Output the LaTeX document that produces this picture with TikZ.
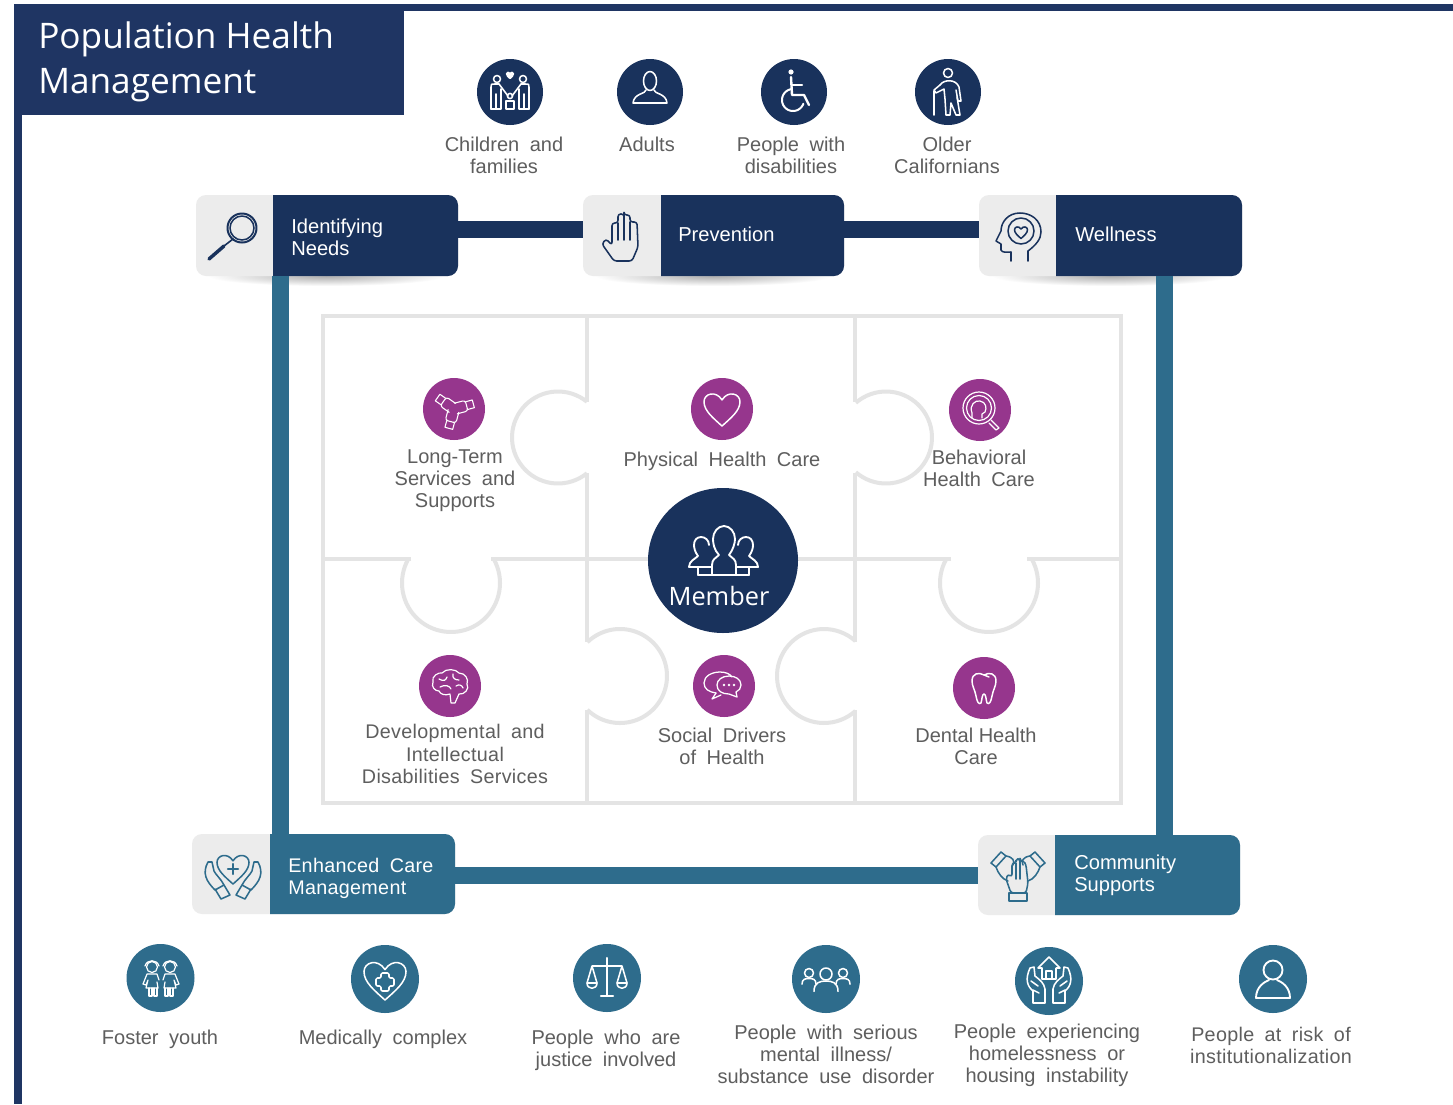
\documentclass[tikz,border=0pt]{standalone}
\usepackage{fontspec}
\usetikzlibrary{shapes.geometric}
\setmainfont{Liberation Sans}[WordSpace=1.9]
\newfontfamily\titlefont{Open Sans}
\newfontfamily\spacedfont{Liberation Sans}[WordSpace=1.8,LetterSpace=1.6]
\newfontfamily\singlefont{Liberation Sans}
\definecolor{navy}{HTML}{19325C}
\definecolor{framenavy}{HTML}{1F3563}
\definecolor{teal}{HTML}{2E6C8C}
\definecolor{plum}{HTML}{96368D}
\definecolor{cardgray}{HTML}{ECECEC}
\definecolor{puzzle}{HTML}{E4E4E4}
\definecolor{lblgray}{HTML}{5E5E5E}
\tikzset{
  disc/.style={circle,fill=#1,inner sep=0pt,minimum size=66*0.75pt},
  tdisc/.style={circle,fill=teal,inner sep=0pt,minimum size=68*0.75pt},
  pdisc/.style={circle,fill=plum,inner sep=0pt,minimum size=62*0.75pt},
  lbl/.style={align=center,text=lblgray,inner sep=0pt,font=\fontsize{15}{16.6}\selectfont},
  cardtxt/.style={align=left,anchor=west,text=white,inner sep=0pt,font=\fontsize{15.1}{16.6}\selectfont},
  cardbox/.style={rectangle,fill=cardgray,rounded corners=7.5pt,inner sep=0pt},
  navybar/.style={draw=navy,line width=12.75pt},
  tealbar/.style={draw=teal,line width=12.75pt},
  pz/.style={draw=puzzle,line width=3pt},
  ico/.style={draw=#1,line width=1.15pt,line join=round,line cap=round},
  ico/.default=white,
}
\newcommand\card[7]{%
  \node[cardbox,minimum width={(#4-#2)*0.75pt},minimum height={(#6-#5)*0.75pt}] (#1) at ({(#2+#4)/2},{(#5+#6)/2}) {};
  \fill[#7] (#3,#5) [rounded corners=7.5pt] -- (#4,#5) -- (#4,#6) [sharp corners] -- (#3,#6) -- cycle;
}
\newcommand\heart[3]{({#1},{#2+#3}) .. controls ({#1-0.5*#3},{#2+0.55*#3}) and ({#1-#3},{#2+0.15*#3}) .. ({#1-#3},{#2-0.35*#3}) .. controls ({#1-#3},{#2-0.8*#3}) and ({#1-0.35*#3},{#2-#3}) .. ({#1},{#2-0.45*#3}) .. controls ({#1+0.35*#3},{#2-#3}) and ({#1+#3},{#2-0.8*#3}) .. ({#1+#3},{#2-0.35*#3}) .. controls ({#1+#3},{#2+0.15*#3}) and ({#1+0.5*#3},{#2+0.55*#3}) .. ({#1},{#2+#3}) -- cycle}
\newcommand\knob[5]{\draw[pz] plot[domain=#4:#5,samples=50,smooth] ({#1+#3*cos(\x)},{#2+#3*sin(\x)});}
\newcommand\bust[4]{%
  \draw (#1,#2) circle[radius=#3];
  \draw ({#1-#4},{#2+#3+#4*0.95}) .. controls ({#1-#4},{#2+#3+#4*0.2}) and ({#1-#4*0.5},{#2+#3+1}) .. ({#1},{#2+#3+1}) .. controls ({#1+#4*0.5},{#2+#3+1}) and ({#1+#4},{#2+#3+#4*0.2}) .. ({#1+#4},{#2+#3+#4*0.95});
}
\begin{document}
\begin{tikzpicture}[x=0.75pt,y=-0.75pt]
\useasboundingbox (0,0) rectangle (1453,1104);
\fill[white] (0,0) rectangle (1453,1104);
% frame
\fill[framenavy] (14,4) rectangle (1453,11);
\fill[framenavy] (14,4) rectangle (22,1104);
\node[fill=framenavy,inner sep=0pt,minimum width=390*0.75pt,minimum height=111*0.75pt] (titlebox) at (209,59.5) {};
\node[anchor=west,text=white,align=left,inner sep=0pt,font=\titlefont\fontsize{26.4}{33.8}\selectfont] (title) at (38,62) {Population Health\\Management};
% named guide coordinates
\coordinate (busTop) at (0,229);
\coordinate (busBot) at (0,875.5);
\coordinate (railL) at (280.5,0);
\coordinate (railR) at (1164,0);
% shadows
\foreach \cx in {326,713,1110}{
  \begin{scope}
    \clip (\cx-130,276) rectangle (\cx+130,290);
    \shade[inner color=black!32,outer color=white] (\cx,276) ellipse [x radius=118,y radius=10];
  \end{scope}
}
% puzzle
\draw[pz] (411,559) -- (323,559) -- (323,316) -- (1121,316) -- (1121,559) -- (1027,559);
\draw[pz] (951,559) -- (491,559);
\draw[pz] (323,559) -- (323,803) -- (1121,803) -- (1121,559);
\draw[pz] (587,316) -- (587,402) (587,473) -- (587,642) (587,710) -- (587,803);
\draw[pz] (855,316) -- (855,402) (855,473) -- (855,642) (855,710) -- (855,803);
\knob{558}{437.5}{46}{51}{309}
\knob{886}{437.5}{46}{-131}{131}
\knob{451}{583}{49}{-29}{209}
\knob{989}{583}{49}{-29}{209}
\knob{620}{676}{47}{-134}{134}
\knob{824}{676}{47}{48}{312}
% cards
\card{idn}{196}{273}{458}{195}{276}{navy}
\card{prev}{583}{661}{844}{195}{276}{navy}
\card{well}{979}{1056}{1242}{195}{276}{navy}
\card{ecm}{192}{270}{455}{834}{914}{teal}
\card{cs}{978}{1055}{1240}{835}{915}{teal}
\node[cardtxt] (idn-t) at (291,237.5) {Identifying\\Needs};
\node[cardtxt] (prev-t) at (678,234) {Prevention};
\node[cardtxt] (well-t) at (1075,234) {Wellness};
\node[cardtxt,font=\spacedfont\fontsize{14.8}{16.6}\selectfont] (ecm-t) at (288,878) {Enhanced Care\\Management};
\node[cardtxt] (cs-t) at (1074,875) {Community\\Supports};
% connectors
\draw[navybar] (idn.east |- busTop) -- (prev.west |- busTop);
\draw[navybar] (prev.east |- busTop) -- (well.west |- busTop);
\draw[tealbar] (ecm.east |- busBot) -- (cs.west |- busBot);
\draw[tealbar] (railL |- idn.south) -- (railL |- ecm.north);
\draw[tealbar] (railR |- well.south) -- (railR |- cs.north);
% top discs
\node[disc=navy] (dChild) at (510,92) {};
\node[disc=navy] (dAdult) at (650,92) {};
\node[disc=navy] (dDis) at (794,92) {};
\node[disc=navy] (dOld) at (948,92) {};
\node[lbl] (tChild) at (504,155.5) {Children and\\families};
\node[lbl] (tAdult) at (647,144) {Adults};
\node[lbl] (tDis) at (791,155.5) {People with\\disabilities};
\node[lbl] (tOld) at (947,155) {Older\\Californians};
% family icon
\begin{scope}[shift={(510,92)},ico]
  \draw[fill=white] \heart{0}{-17}{3.4};
  \draw (-13,-13) circle[radius=3.5] (13,-13) circle[radius=3.5] (0,4) circle[radius=2.6];
  \draw (-19,17) -- (-19,-5) .. controls (-19,-8) .. (-15,-8) -- (-11,-8) -- (-2,4);
  \draw (-9,17) -- (-9,-3) (-14,17) -- (-14,2) (-19,17) -- (-9,17);
  \draw (19,17) -- (19,-5) .. controls (19,-8) .. (15,-8) -- (11,-8) -- (2,4);
  \draw (9,17) -- (9,-3) (14,17) -- (14,2) (19,17) -- (9,17);
  \draw (-4,17) -- (-4,9) -- (4,9) -- (4,17) -- cycle;
\end{scope}
% adult icon
\begin{scope}[shift={(650,91)},ico]
  \draw (0,-10) ellipse [x radius=6.5,y radius=9.5];
  \draw (-4,-1) .. controls (-4,3) and (-16,2) .. (-17,12) -- (17,12) .. controls (16,2) and (4,3) .. (4,-1);
\end{scope}
% wheelchair
\begin{scope}[shift={(794,92)},ico]
  \fill[white] (-3,-20) circle[radius=2.6];
  \draw[line width=1.8pt] (-3,-15) -- (-2,3) -- (10,3) -- (15,13);
  \draw[line width=1.5pt] (-2,-7) -- (8,-7);
  \draw[line width=1.5pt] plot[domain=20:260,samples=30,smooth] ({-1+11*cos(\x)},{8+11*sin(\x)});
\end{scope}
% older person
\begin{scope}[shift={(948,91)},ico]
  \draw (0,-18) circle[radius=4.5];
  \draw (-8,-6) .. controls (-4,-12) and (8,-12) .. (11,-4) -- (13,10) -- (10,10) -- (8,-1);
  \draw (-8,-6) -- (-14,-1) -- (-12,2) -- (-4,-2) -- (-3,8) -- (-2,24) -- (2,24) -- (3,12) -- (8,24) -- (12,24) -- (9,6);
  \draw (-14,0) -- (-14,24);
\end{scope}
% card icons
\begin{scope}[ico=navy]
  \draw[line width=1.5pt] (242,228) circle[radius=14.5];
  \draw (242,228) circle[radius=12];
  \draw[line width=1.2pt] (233,239) -- (224,246);
  \draw[line width=2.6pt] (224,246) -- (209,259);
\end{scope}
\begin{scope}[shift={(622,237)},ico=navy]
  \draw[rounded corners=2pt] (-8,24) -- (-20,7) -- (-16,2) -- (-10,8) -- (-10,-14) -- (-4,-14) -- (-4,-23) -- (2,-23) -- (2,-22) -- (8,-22) -- (8,-15) -- (15,-15) -- (16,10) -- (10,24) -- cycle;
  \draw (-4,-14) -- (-4,3) (2,-22) -- (2,3) (8,-15) -- (8,3);
\end{scope}
\begin{scope}[shift={(1019,236)},ico=navy]
  \draw (9,25) -- (9,15) .. controls (17,9) and (22,3) .. (22,-4) .. controls (22,-16) and (12,-23) .. (1,-23) .. controls (-11,-23) and (-18,-14) .. (-18,-5) -- (-23,5) -- (-18,8) -- (-18,14) .. controls (-17,17) and (-12,16) .. (-8,16) -- (-8,25);
  \draw (2,-5) circle[radius=13];
  \draw \heart{2}{-4}{6.5};
\end{scope}
\begin{scope}[shift={(233,875)},ico=teal]
  \draw \heart{0}{-7}{16};
  \draw[line width=1.8pt] (-5,-6) -- (5,-6) (0,-11) -- (0,-1);
  \foreach \s in {1,-1}{
    \begin{scope}[xscale=\s]
      \draw (-25,-13) .. controls (-31,-2) and (-27,6) .. (-18,15) -- (-9,10) .. controls (-12,4) and (-17,0) .. (-19,-4) -- (-21,-13) -- cycle;
      \draw (-18,14) -- (-12,24) -- (-3,20) -- (-9,10);
    \end{scope}
  }
\end{scope}
\begin{scope}[shift={(1018,875)},ico=teal]
  \foreach \s in {1,-1}{
    \begin{scope}[xscale=\s]
      \draw (-27,-12) -- (-17,-23) -- (-12,-19) -- (-22,-8) -- cycle;
      \draw (-12,-19) .. controls (-5,-18) and (-3,-14) .. (-5,-10);
      \draw (-22,-8) .. controls (-20,-2) and (-16,4) .. (-10,6);
    \end{scope}
  }
  \draw[rounded corners=2pt] (-10,-1) -- (-6,2) -- (-6,-12) -- (-2,-12) -- (-2,-16) -- (2,-16) -- (2,-14) -- (6,-14) -- (8,-10) -- (10,8) -- (8,18) -- (-7,18) -- (-12,4) -- cycle;
  \draw (-2,-12) -- (-2,4) (2,-14) -- (2,4);
  \draw (-9,18) rectangle (9,26);
\end{scope}
% purple discs
\node[pdisc] (dLtss) at (454,409) {};
\node[pdisc] (dPhys) at (722,409) {};
\node[pdisc] (dBeh) at (980,410) {};
\node[pdisc] (dDev) at (450,686) {};
\node[pdisc] (dSoc) at (724,686) {};
\node[pdisc] (dDen) at (984,688) {};
\node[lbl] (tLtss) at (455,481) {Long-Term\\Services and\\Supports};
\node[lbl] (tPhys) at (722,461) {Physical Health Care};
\node[lbl] (tBeh) at (979,468.5) {Behavioral\\Health Care};
\node[lbl,font=\spacedfont\fontsize{14.8}{16.6}\selectfont] (tDev) at (455,754) {Developmental and\\Intellectual\\Disabilities Services};
\node[lbl] (tSoc) at (722,746) {Social Drivers\\of Health};
\node[lbl,font=\singlefont\fontsize{15}{16.6}\selectfont] (tDen) at (976,746) {Dental Health\\Care};
% purple icons
\begin{scope}[shift={(454,409)},ico,line width=0.8pt]
  \foreach \a in {-105,15,145}{
    \begin{scope}[rotate=\a]
      \draw[rounded corners=2pt] (2,-5.5) -- (13,-5.5) -- (13,5.5) -- (2,5.5);
      \draw (13,-4) -- (20,-4) -- (20,4) -- (13,4);
    \end{scope}
  }
\end{scope}
\begin{scope}[ico,line width=1.1pt]
  \draw \heart{722}{408}{18};
\end{scope}
\begin{scope}[shift={(980,410)},ico,line width=0.9pt]
  \draw (-1,-2) circle[radius=16] (-1,-2) circle[radius=12.5];
  \draw (-8,8) -- (-8,3) .. controls (-11,-5) and (-5,-10) .. (0,-9) .. controls (6,-8) and (7,-2) .. (5,2) -- (2,4) -- (2,8);
  \draw (11,10) -- (19,18) -- (16,20) -- (9,13);
\end{scope}
\begin{scope}[shift={(450,686)},ico,line width=0.9pt]
  \draw (-17,-4) .. controls (-19,-10) and (-11,-14) .. (-8,-13) .. controls (-4,-18) and (6,-17) .. (9,-13) .. controls (15,-13) and (19,-7) .. (17,-2) .. controls (20,3) and (14,9) .. (9,8) -- (5,17) -- (1,17) -- (0,8) .. controls (-5,10) and (-10,8) .. (-11,5) .. controls (-15,5) and (-19,1) .. (-17,-4);
  \draw (-11,-7) .. controls (-6,-4) and (-4,-6) .. (-3,-9) (-10,1) .. controls (-5,-2) and (0,0) .. (1,3) (3,-12) .. controls (2,-8) and (5,-6) .. (9,-6) (6,0) .. controls (9,-2) and (12,-1) .. (13,2);
\end{scope}
\begin{scope}[shift={(724,686)},ico,line width=0.95pt]
  \draw (-8,7) .. controls (-15,6) and (-20,3) .. (-20,-3) .. controls (-20,-10) and (-12,-14) .. (-4,-14) .. controls (2,-14) and (6,-12) .. (8,-9);
  \draw (-8,7) -- (-12,13) -- (-3,9);
  \draw (17,-1) .. controls (17,-7) and (11,-10) .. (5,-10) .. controls (-2,-10) and (-7,-6) .. (-7,-1) .. controls (-7,5) and (-2,8) .. (5,8) -- (13,11) -- (12,6) .. controls (15,5) and (17,2) .. (17,-1);
  \fill[white] (0,-1) circle[radius=1.3] (5,-1) circle[radius=1.3] (10,-1) circle[radius=1.3];
\end{scope}
\begin{scope}[shift={(984,688)},ico,line width=1.1pt]
  \draw (0,-13) .. controls (-5,-16) and (-12,-15) .. (-12,-7) .. controls (-12,-2) and (-9,2) .. (-8,8) .. controls (-7,14) and (-5,17) .. (-3,15) .. controls (-2,12) and (-2,6) .. (0,6) .. controls (2,6) and (2,12) .. (3,15) .. controls (5,17) and (7,14) .. (8,8) .. controls (9,2) and (12,-2) .. (12,-7) .. controls (12,-15) and (5,-16) .. (0,-13) -- (5,-11);
\end{scope}
% member
\node[ellipse,fill=navy,inner sep=0pt,minimum width=150*0.75pt,minimum height=145*0.75pt] (member) at (723,560.5) {};
\node[text=white,inner sep=0pt,font=\titlefont\fontsize{19}{24}\selectfont] (memberT) at (719,596) {Member};
\begin{scope}[shift={(723,552)},ico,line width=1.4pt]
  \draw (-11,23) -- (-11,13) .. controls (-11,7) and (-7,6) .. (-4,3) .. controls (-9,-2) and (-10,-9) .. (-10,-13) .. controls (-10,-20) and (-5,-26) .. (1,-26) .. controls (7,-26) and (12,-20) .. (12,-13) .. controls (12,-9) and (10,-2) .. (6,3) .. controls (9,6) and (13,7) .. (13,13) -- (13,23) -- cycle;
  \draw (-11,23) -- (-25,23) (13,23) -- (26,23);
  \draw (-11,15) -- (-34,15) .. controls (-34,9) and (-28,7) .. (-25,4) .. controls (-28,0) and (-29,-4) .. (-29,-7) .. controls (-29,-12) and (-26,-15) .. (-22,-15) .. controls (-18,-15) and (-14,-12) .. (-14,-7) ;
  \draw (-25,15) -- (-25,23);
  \draw (13,15) -- (35,15) .. controls (35,9) and (29,7) .. (26,4) .. controls (29,0) and (30,-4) .. (30,-7) .. controls (30,-12) and (27,-15) .. (23,-15) .. controls (19,-15) and (15,-12) .. (15,-7);
  \draw (26,15) -- (26,23);
\end{scope}
% bottom discs
\node[tdisc] (dFos) at (160.5,978) {};
\node[tdisc] (dMed) at (385,979) {};
\node[tdisc] (dJus) at (607,978) {};
\node[tdisc] (dSmi) at (826,979) {};
\node[tdisc] (dHom) at (1049,981) {};
\node[tdisc] (dRisk) at (1273,979) {};
\node[lbl] (tFos) at (160,1039) {Foster youth};
\node[lbl] (tMed) at (383,1039) {Medically complex};
\node[lbl] (tJus) at (606,1050) {People who are\\justice involved};
\node[lbl] (tSmi) at (826,1054) {People with serious\\mental illness/\\substance use disorder};
\node[lbl] (tHom) at (1047,1055.5) {People experiencing\\homelessness or\\housing instability};
\node[lbl,font=\spacedfont\fontsize{14.8}{16.6}\selectfont] (tRisk) at (1271,1045) {People at risk of\\institutionalization};
% bottom icons
\begin{scope}[shift={(161,978)},ico,line width=0.9pt]
  \foreach \s in {1,-1}{
    \begin{scope}[xscale=\s]
      \draw (-9,-11) circle[radius=5.5];
      \draw (-16,-12) .. controls (-14,-19) and (-4,-19) .. (-2,-12);
      \draw (-2,2) -- (-4,-4) -- (-14,-4) -- (-18,6) -- (-15,7) -- (-13,2) -- (-15,10) -- (-3,10) -- (-4,4);
      \draw (-12,10) -- (-12,18) -- (-9,18) -- (-9,10) (-7,10) -- (-7,18) -- (-4,18) -- (-4,10);
    \end{scope}
  }
\end{scope}
\begin{scope}[ico]
  \draw \heart{385}{979}{21};
  \draw[rounded corners=1pt] (381,973) -- (389,973) -- (389,978) -- (394,978) -- (394,986) -- (389,986) -- (389,991) -- (381,991) -- (381,986) -- (376,986) -- (376,978) -- (381,978) -- cycle;
\end{scope}
\begin{scope}[shift={(607,978)},ico]
  \draw[line width=1.6pt] (0,-20) -- (0,17);
  \draw[line width=1.6pt] (-6,18) -- (6,18);
  \draw (-15,-12) -- (15,-12) (-15,-12) -- (-20,5) (-15,-12) -- (-10,5) (15,-12) -- (20,5) (15,-12) -- (10,5);
  \draw (-20,5) -- (-10,5) .. controls (-10,12) and (-20,12) .. (-20,5);
  \draw (20,5) -- (10,5) .. controls (10,12) and (20,12) .. (20,5);
\end{scope}
\begin{scope}[shift={(826,979)},ico]
  \bust{0}{-5}{6}{12}
  \bust{-17}{-6}{4.5}{7}
  \bust{17}{-6}{4.5}{7}
\end{scope}
\begin{scope}[shift={(1049,981)},ico]
  \draw (-11,-13) -- (0,-24) -- (11,-13) -- (7,-13) -- (7,-2) -- (-7,-2) -- (-7,-13) -- cycle;
  \draw (-3,-2) rectangle (3,-10);
  \foreach \s in {1,-1}{
    \begin{scope}[xscale=\s]
      \draw (-19,-13) .. controls (-24,-2) and (-22,5) .. (-16,10) -- (-16,22) -- (-4,22) -- (-4,8) .. controls (-5,2) and (-9,-1) .. (-14,-5) -- (-15,-14) -- cycle;
      \draw (-16,9) -- (-10,12) (-18,0) -- (-11,5);
    \end{scope}
  }
\end{scope}
\begin{scope}[shift={(1273,979)},ico,line width=1.4pt]
  \draw (0,-9) circle[radius=9.5];
  \draw (-17,19) .. controls (-17,8) and (-9,3) .. (-4,1) (17,19) .. controls (17,8) and (9,3) .. (4,1);
  \draw (-17,19) -- (17,19);
\end{scope}
\end{tikzpicture}
\end{document}
